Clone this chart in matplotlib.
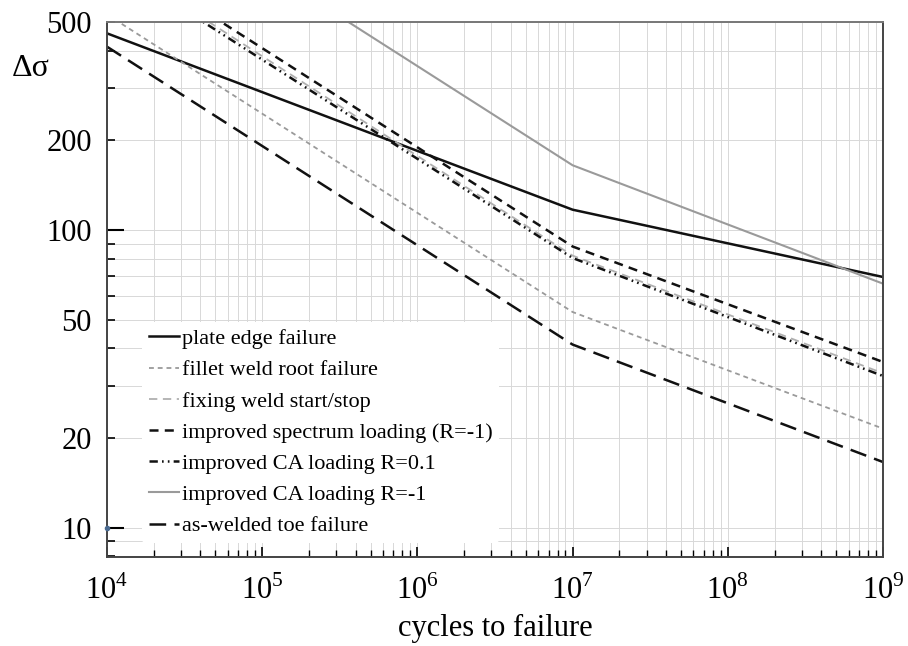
import numpy as np
import matplotlib
matplotlib.use("Agg")
import matplotlib.pyplot as plt
from matplotlib.ticker import FixedLocator, FuncFormatter, NullFormatter

plt.rcParams['font.family'] = ['Liberation Serif', 'DejaVu Serif']
plt.rcParams['mathtext.fontset'] = 'custom'
plt.rcParams['mathtext.rm'] = 'Liberation Serif'
plt.rcParams['lines.scale_dashes'] = False

# S-N curves, knee at 1e7 cycles
cycles = [1e4, 1e7, 1e9]
plate_edge = [458, 117, 69.5]
fillet_root = [530, 53, 21.5]
fixing_weld = [830, 82, 33]
spectrum_R_m1 = [880, 88, 36]
ca_R_01 = [805, 80.5, 32.3]
ca_R_m1 = [1650, 165, 66]
as_welded = [413, 41.2, 16.6]

labels = ['plate edge failure', 'fillet weld root failure', 'fixing weld start/stop',
          'improved spectrum loading (R=-1)', 'improved CA loading R=0.1',
          'improved CA loading R=-1', 'as-welded toe failure']

fig = plt.figure(figsize=(9.08, 6.46), dpi=100)
ax = fig.add_axes([107/908, 1-557/646, (883-107)/908, (557-22)/646])

ax.plot(cycles, plate_edge, color='#111111', lw=1.8, label=labels[0])
ax.plot(cycles, fillet_root, color='#9a9a9a', lw=1.3, dashes=(3.5, 2.8), label=labels[1])
ax.plot(cycles, fixing_weld, color='#b0b0b0', lw=1.3, dashes=(6, 4), label=labels[2])
ax.plot(cycles, spectrum_R_m1, color='#111111', lw=1.8, dashes=(6.5, 4.5), label=labels[3])
ax.plot(cycles, ca_R_01, color='#111111', lw=1.8, dashes=(6, 3, 1.2, 3, 1.2, 3), label=labels[4])
ax.plot(cycles, ca_R_m1, color='#9a9a9a', lw=1.5, label=labels[5])
ax.plot(cycles, as_welded, color='#111111', lw=1.8, dashes=(12, 6), label=labels[6])
ax.plot([1e4], [10], marker='o', ms=3, color='#4a6a90', clip_on=False, zorder=5)

ax.set_xscale('log')
ax.set_yscale('log')
ax.set_xlim(1e4, 1e9)
ax.set_ylim(7.96, 500)

# y ticks: long at decades, short elsewhere; labels at 10,20,50,100,200,500
ax.yaxis.set_major_locator(FixedLocator([10, 100]))
ax.yaxis.set_minor_locator(FixedLocator([8, 9, 20, 30, 40, 50, 60, 70, 80, 90,
                                         200, 300, 400, 500]))
ax.yaxis.set_major_formatter(FuncFormatter(lambda v, p: '%d' % v))
ax.yaxis.set_minor_formatter(FuncFormatter(
    lambda v, p: '%d' % v if int(round(v)) in (20, 50, 200, 500) else ''))

ax.xaxis.set_major_locator(FixedLocator([1e4, 1e5, 1e6, 1e7, 1e8, 1e9]))
ax.xaxis.set_major_formatter(FuncFormatter(lambda v, p: r'$10^{%d}$' % round(np.log10(v))))
ax.xaxis.set_minor_locator(FixedLocator([m * 10**e for e in range(4, 9) for m in range(2, 10)]))
ax.xaxis.set_minor_formatter(NullFormatter())

ax.tick_params(axis='y', which='both', direction='in', right=False, labelsize=22, pad=11)
ax.tick_params(axis='y', which='major', length=12, width=1.5)
ax.tick_params(axis='y', which='minor', length=6, width=1.2)
ax.tick_params(axis='x', which='both', direction='in', top=False, labelsize=22, pad=13)
ax.tick_params(axis='x', which='major', length=7, width=1.2)
ax.tick_params(axis='x', which='minor', length=5, width=1.0)

ax.grid(True, which='both', color='#d8d8d8', lw=0.7)
for s in ax.spines.values():
    s.set_color('#444444')
    s.set_linewidth(1.4)
ax.spines['top'].set_color('#777777')

ax.set_xlabel('cycles to failure', fontsize=22, labelpad=6)
fig.text(31/908, 1-68/646, 'Δσ', fontsize=23, ha='center', va='center')

leg = ax.legend(loc='lower left', bbox_to_anchor=(0.045, 0.026), fontsize=16,
                frameon=True, facecolor='white', edgecolor='none', framealpha=1,
                handlelength=1.35, handletextpad=0.15, labelspacing=0.48,
                borderpad=0.3, borderaxespad=0)

fig.savefig('out.png', dpi=100)
